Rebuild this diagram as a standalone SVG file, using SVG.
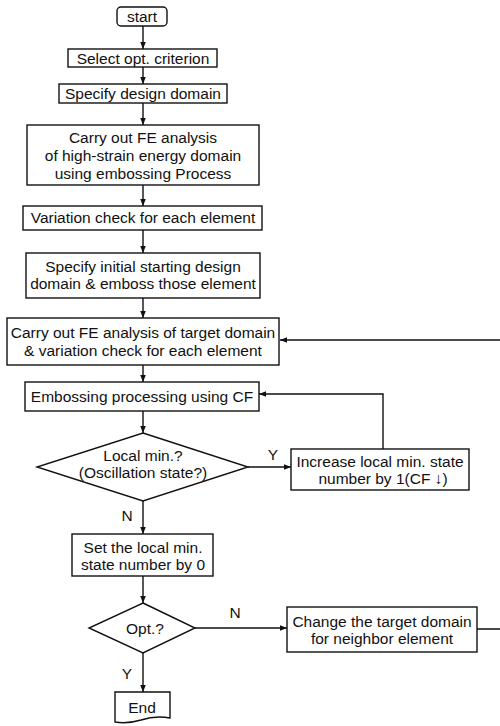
<svg xmlns="http://www.w3.org/2000/svg" width="500" height="726" viewBox="0 0 500 726">
<style>
.box{fill:#fff;stroke:#111;stroke-width:1.4}
.t{font-family:"Liberation Sans",Arial,sans-serif;font-size:15.5px;fill:#111;text-anchor:middle}
.lbl{font-family:"Liberation Sans",Arial,sans-serif;font-size:15.5px;fill:#111;text-anchor:middle}
.c{fill:none;stroke:#111;stroke-width:1.4}
</style>
<defs>
<marker id="ah" viewBox="0 0 10 10" refX="10" refY="5" markerWidth="7" markerHeight="7" markerUnits="userSpaceOnUse" orient="auto">
<path d="M0,1 L10,5 L0,9 Z" fill="#111"/>
</marker>
</defs>
<rect width="500" height="726" fill="#fff"/>
<g id="connectors">
<line class="c" x1="143" y1="26" x2="143" y2="49" marker-end="url(#ah)"/>
<line class="c" x1="143" y1="67" x2="143" y2="84" marker-end="url(#ah)"/>
<line class="c" x1="143" y1="103" x2="143" y2="125" marker-end="url(#ah)"/>
<line class="c" x1="143" y1="185" x2="143" y2="206" marker-end="url(#ah)"/>
<line class="c" x1="143" y1="230" x2="143" y2="253" marker-end="url(#ah)"/>
<line class="c" x1="143" y1="298" x2="143" y2="318" marker-end="url(#ah)"/>
<line class="c" x1="143" y1="365" x2="143" y2="382" marker-end="url(#ah)"/>
<line class="c" x1="143" y1="411" x2="143" y2="433" marker-end="url(#ah)"/>
<line class="c" x1="143" y1="501" x2="143" y2="534" marker-end="url(#ah)"/>
<line class="c" x1="143" y1="576" x2="143" y2="603" marker-end="url(#ah)"/>
<line class="c" x1="143" y1="653" x2="143" y2="692" marker-end="url(#ah)"/>
<line class="c" x1="248" y1="467" x2="291" y2="467" marker-end="url(#ah)"/>
<line class="c" x1="195" y1="628" x2="287" y2="628" marker-end="url(#ah)"/>
<path class="c" d="M383,449 V394 H259" marker-end="url(#ah)"/>
<path class="c" d="M477,629 H506 V340 H280" marker-end="url(#ah)"/>
<text class="lbl" x="273" y="460">Y</text>
<text class="lbl" x="127" y="521">N</text>
<text class="lbl" x="235" y="618">N</text>
<text class="lbl" x="127" y="679">Y</text>
</g>
<g id="start">
<rect class="box" x="117" y="7" width="50" height="19" rx="4"/>
<text class="t" x="142" y="21.5">start</text>
</g>
<g id="select">
<rect class="box" x="68" y="49" width="149" height="18"/>
<text class="t" x="143" y="63.5">Select opt. criterion</text>
</g>
<g id="specify">
<rect class="box" x="59" y="84" width="168" height="19"/>
<text class="t" x="143" y="99">Specify design domain</text>
</g>
<g id="fe1">
<rect class="box" x="27" y="125" width="232" height="60"/>
<text class="t" x="143" y="142.5">Carry out FE analysis</text>
<text class="t" x="143" y="160.5">of high-strain energy domain</text>
<text class="t" x="143" y="178.5">using embossing Process</text>
</g>
<g id="variation">
<rect class="box" x="23" y="206" width="239" height="24"/>
<text class="t" x="143" y="223">Variation check for each element</text>
</g>
<g id="initial">
<rect class="box" x="26" y="253" width="234" height="45"/>
<text class="t" x="143" y="271.5">Specify initial starting design</text>
<text class="t" x="143" y="288.5">domain &amp; emboss those element</text>
</g>
<g id="target">
<rect class="box" x="7" y="318" width="272" height="47"/>
<text class="t" x="143" y="337.5">Carry out FE analysis of target domain</text>
<text class="t" x="143" y="355.5">&amp; variation check for each element</text>
</g>
<g id="emboss">
<rect class="box" x="25" y="382" width="234" height="29"/>
<text class="t" x="142" y="402">Embossing processing using CF</text>
</g>
<g id="localmin">
<polygon class="box" points="143,433 248,467 143,501 37,467"/>
<text class="t" x="143" y="460.5">Local min.?</text>
<text class="t" x="143" y="477.5">(Oscillation state?)</text>
</g>
<g id="increase">
<rect class="box" x="291" y="449" width="178" height="41"/>
<text class="t" x="380" y="466.5">Increase local min. state</text>
<text class="t" x="383" y="483.5">number by 1(CF ↓)</text>
</g>
<g id="setzero">
<rect class="box" x="72" y="534" width="141" height="42"/>
<text class="t" x="143" y="552.5">Set the local min.</text>
<text class="t" x="143" y="569.5">state number by 0</text>
</g>
<g id="opt">
<polygon class="box" points="143,603 195,628 143,653 89,628"/>
<text class="t" x="145" y="633.5">Opt.?</text>
</g>
<g id="change">
<rect class="box" x="287" y="607" width="190" height="45"/>
<text class="t" x="382" y="626.5">Change the target domain</text>
<text class="t" x="382" y="643.5">for neighbor element</text>
</g>
<g id="end">
<path class="box" d="M115,692 H170 V718 C160,716 150,717 141,720 C131,723 121,723 115,722 Z"/>
<text class="t" x="142" y="712.5">End</text>
</g>
</svg>
